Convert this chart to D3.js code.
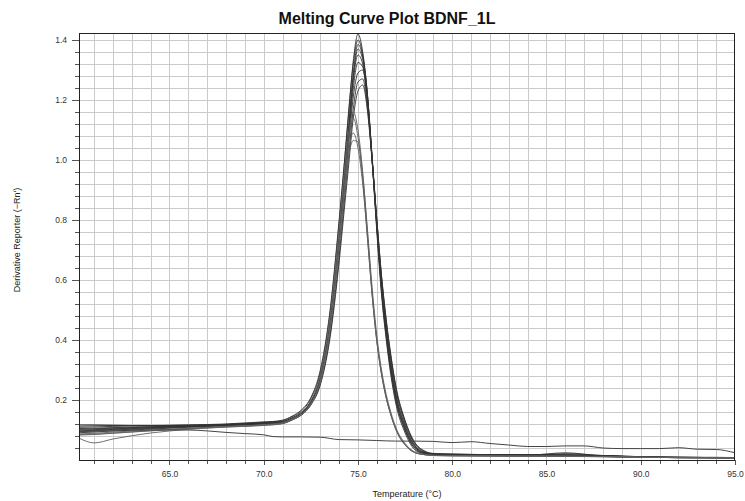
<!DOCTYPE html>
<html>
<head>
<meta charset="utf-8">
<script src="https://cdn.jsdelivr.net/npm/d3@7/dist/d3.min.js"></script>
<style>
  html, body { margin: 0; padding: 0; background: #fff; }
  svg { display: block; }
  text { font-family: "Liberation Sans", Arial, sans-serif; }
</style>
</head>
<body>
<svg id="chart" width="745" height="501"></svg>
<script>
// Shared temperature grid (°C) for the sample wells
const temps = [60.2, 61, 62, 64, 66, 68, 70, 71, 71.5, 72, 72.5, 73, 73.5, 74, 74.25, 74.5, 74.75,
  75, 75.25, 75.5, 75.75, 76, 76.25, 76.5, 76.75, 77, 77.5, 78, 78.5, 79,
  80, 82, 84, 86, 88, 90, 92, 94, 95];

// Derivative reporter (-Rn') per well
const wellA = [0.113, 0.114, 0.115, 0.115, 0.116, 0.118, 0.124, 0.131, 0.144, 0.163, 0.205, 0.290, 0.480, 0.790, 0.970, 1.150, 1.330, 1.420, 1.360, 1.220, 1.000, 0.760, 0.550, 0.400, 0.280, 0.190, 0.090, 0.035, 0.020, 0.017, 0.016, 0.015, 0.014, 0.014, 0.012, 0.009, 0.008, 0.008, 0.007];
const wellB = [0.117, 0.117, 0.116, 0.114, 0.115, 0.119, 0.126, 0.133, 0.146, 0.167, 0.208, 0.300, 0.490, 0.800, 0.970, 1.160, 1.320, 1.400, 1.350, 1.220, 1.010, 0.780, 0.570, 0.420, 0.300, 0.205, 0.100, 0.040, 0.022, 0.018, 0.017, 0.016, 0.016, 0.015, 0.013, 0.009, 0.008, 0.007, 0.007];
const wellC = [0.109, 0.110, 0.112, 0.114, 0.117, 0.120, 0.127, 0.128, 0.140, 0.158, 0.196, 0.275, 0.450, 0.745, 0.925, 1.110, 1.290, 1.385, 1.345, 1.215, 1.000, 0.770, 0.560, 0.410, 0.290, 0.200, 0.098, 0.040, 0.022, 0.018, 0.017, 0.016, 0.016, 0.024, 0.013, 0.009, 0.008, 0.008, 0.007];
const wellD = [0.105, 0.106, 0.108, 0.111, 0.114, 0.118, 0.123, 0.128, 0.139, 0.157, 0.193, 0.270, 0.440, 0.730, 0.910, 1.095, 1.275, 1.370, 1.335, 1.210, 1.005, 0.780, 0.575, 0.425, 0.305, 0.212, 0.105, 0.045, 0.024, 0.019, 0.018, 0.017, 0.017, 0.016, 0.014, 0.010, 0.008, 0.008, 0.007];
const wellE = [0.102, 0.104, 0.106, 0.110, 0.113, 0.117, 0.122, 0.127, 0.139, 0.157, 0.194, 0.272, 0.445, 0.735, 0.910, 1.090, 1.265, 1.350, 1.320, 1.200, 1.000, 0.780, 0.580, 0.430, 0.310, 0.218, 0.110, 0.048, 0.025, 0.019, 0.018, 0.017, 0.016, 0.016, 0.014, 0.010, 0.009, 0.008, 0.007];
const wellF = [0.100, 0.101, 0.104, 0.108, 0.112, 0.116, 0.121, 0.126, 0.138, 0.156, 0.193, 0.270, 0.440, 0.725, 0.895, 1.070, 1.240, 1.325, 1.310, 1.195, 1.000, 0.785, 0.590, 0.440, 0.320, 0.225, 0.115, 0.050, 0.026, 0.020, 0.018, 0.017, 0.016, 0.017, 0.014, 0.010, 0.009, 0.008, 0.008];
const wellG = [0.097, 0.099, 0.102, 0.107, 0.112, 0.117, 0.124, 0.128, 0.140, 0.158, 0.195, 0.272, 0.440, 0.720, 0.885, 1.050, 1.210, 1.290, 1.300, 1.195, 1.010, 0.800, 0.605, 0.455, 0.335, 0.238, 0.122, 0.055, 0.028, 0.020, 0.019, 0.018, 0.017, 0.021, 0.015, 0.010, 0.009, 0.008, 0.008];
const wellH = [0.095, 0.097, 0.100, 0.105, 0.110, 0.115, 0.121, 0.124, 0.135, 0.152, 0.186, 0.255, 0.410, 0.680, 0.845, 1.010, 1.170, 1.260, 1.270, 1.175, 1.000, 0.800, 0.610, 0.462, 0.342, 0.245, 0.128, 0.058, 0.030, 0.021, 0.019, 0.018, 0.017, 0.016, 0.015, 0.011, 0.009, 0.008, 0.008];
const wellI = [0.091, 0.093, 0.097, 0.103, 0.109, 0.114, 0.120, 0.123, 0.134, 0.150, 0.183, 0.250, 0.400, 0.660, 0.820, 0.980, 1.140, 1.230, 1.250, 1.165, 0.995, 0.800, 0.615, 0.468, 0.348, 0.250, 0.132, 0.060, 0.031, 0.022, 0.020, 0.018, 0.018, 0.017, 0.015, 0.011, 0.009, 0.009, 0.008];
const wellJ = [0.087, 0.089, 0.093, 0.100, 0.106, 0.112, 0.118, 0.125, 0.138, 0.158, 0.197, 0.280, 0.470, 0.770, 0.940, 1.085, 1.160, 1.100, 0.960, 0.760, 0.560, 0.400, 0.290, 0.210, 0.150, 0.105, 0.050, 0.025, 0.018, 0.015, 0.014, 0.013, 0.012, 0.012, 0.011, 0.009, 0.008, 0.007, 0.007];
const wellK = [0.085, 0.086, 0.090, 0.098, 0.105, 0.111, 0.117, 0.122, 0.134, 0.152, 0.188, 0.265, 0.438, 0.730, 0.900, 1.060, 1.140, 1.075, 0.935, 0.745, 0.550, 0.395, 0.285, 0.205, 0.148, 0.102, 0.050, 0.025, 0.018, 0.015, 0.014, 0.013, 0.013, 0.012, 0.011, 0.009, 0.008, 0.007, 0.007];
const wellL = [0.083, 0.085, 0.089, 0.097, 0.104, 0.110, 0.115, 0.121, 0.133, 0.150, 0.185, 0.260, 0.430, 0.715, 0.880, 1.030, 1.090, 1.040, 0.920, 0.740, 0.550, 0.395, 0.285, 0.207, 0.150, 0.105, 0.052, 0.026, 0.018, 0.015, 0.014, 0.014, 0.013, 0.013, 0.011, 0.009, 0.008, 0.007, 0.007];
const wellM = [0.073, 0.057, 0.070, 0.090, 0.102, 0.110, 0.116, 0.122, 0.134, 0.151, 0.186, 0.262, 0.432, 0.715, 0.870, 1.010, 1.065, 1.060, 0.950, 0.770, 0.575, 0.415, 0.300, 0.218, 0.158, 0.110, 0.055, 0.027, 0.019, 0.016, 0.015, 0.014, 0.013, 0.013, 0.012, 0.009, 0.008, 0.007, 0.007];

// No-template control has its own, denser grid
const ntcTemps = [60.2, 62, 64, 66, 67, 68, 69, 70, 70.5, 71, 72, 73, 74, 75, 76, 77, 78, 79, 80, 81, 82, 83, 84, 85, 86, 87, 88, 89, 90, 91, 92, 93, 94, 95];
const ntcValues = [0.095, 0.097, 0.100, 0.100, 0.097, 0.092, 0.088, 0.084, 0.078, 0.077, 0.077, 0.076, 0.068, 0.067, 0.065, 0.063, 0.063, 0.062, 0.058, 0.061, 0.055, 0.050, 0.045, 0.045, 0.047, 0.047, 0.040, 0.038, 0.038, 0.038, 0.041, 0.036, 0.035, 0.024];

const wells = [wellA, wellB, wellC, wellD, wellE, wellF, wellG, wellH, wellI, wellJ, wellK, wellL, wellM];

const xMajorTicks = [65, 70, 75, 80, 85, 90, 95];
const yMajorTicks = [0.2, 0.4, 0.6, 0.8, 1.0, 1.2, 1.4];

const titleText = "Melting Curve Plot BDNF_1L";
const xTitle = "Temperature (°C)";
const yTitle = "Derivative Reporter (−Rn')";

const svg = d3.select("#chart");
const W = 745, H = 501;
const m = { left: 79, right: 10, top: 33, bottom: 41 };

const x = d3.scaleLinear().domain([60.2, 95]).range([m.left, W - m.right]);
const y = d3.scaleLinear().domain([0, 1.4233]).range([H - m.bottom, m.top]);

svg.append("rect").attr("width", W).attr("height", H).attr("fill", "#fff");

// Grid: 1 °C vertical, 0.04 horizontal
const xGrid = d3.range(61, 95, 1);
const yGrid = d3.range(1, 36).map(i => +(i * 0.04).toFixed(2));

const grid = svg.append("g").attr("stroke", "#cbcbcb").attr("stroke-width", 1).attr("shape-rendering", "crispEdges");
grid.selectAll("line.v").data(xGrid).join("line")
  .attr("x1", d => Math.round(x(d)) + 0.5).attr("x2", d => Math.round(x(d)) + 0.5)
  .attr("y1", m.top).attr("y2", H - m.bottom);
grid.selectAll("line.h").data(yGrid).join("line")
  .attr("y1", d => Math.round(y(d)) + 0.5).attr("y2", d => Math.round(y(d)) + 0.5)
  .attr("x1", m.left).attr("x2", W - m.right);

// Curves
const line = d3.line().x(d => x(d[0])).y(d => y(d[1])).curve(d3.curveMonotoneX);
const plot = svg.append("g");
plot.selectAll("path.well").data(wells).join("path")
  .attr("class", "well")
  .attr("d", v => line(temps.map((t, i) => [t, v[i]])))
  .attr("fill", "none")
  .attr("stroke", (v, i) => i >= 9 ? "#606060" : "#333")
  .attr("stroke-width", 1)
  .attr("stroke-opacity", 0.9);
plot.append("path")
  .attr("d", line(ntcTemps.map((t, i) => [t, ntcValues[i]])))
  .attr("fill", "none").attr("stroke", "#444").attr("stroke-width", 1);

// Axes
const xAxisMinor = d3.axisBottom(x).tickValues(d3.range(61, 96, 1).filter(d => !xMajorTicks.includes(d))).tickSize(4).tickFormat("");
const xAxisMajor = d3.axisBottom(x).tickValues(xMajorTicks).tickSize(5).tickPadding(6).tickFormat(d3.format(".1f"));
const yAxisMinor = d3.axisLeft(y).tickValues(yGrid.filter(d => !yMajorTicks.some(t => Math.abs(t - d) < 1e-6))).tickSize(4).tickFormat("");
const yAxisMajor = d3.axisLeft(y).tickValues(yMajorTicks).tickSize(7).tickPadding(5).tickFormat(d3.format(".1f"));

function styleAxis(g) {
  g.select(".domain").remove();
  g.selectAll("line").attr("stroke", "#555").attr("shape-rendering", "crispEdges");
  g.selectAll("text").attr("fill", "#333").style("font-size", "8.5px").style("font-family", "'Liberation Sans', Arial, sans-serif");
}
svg.append("g").attr("transform", `translate(0,${H - m.bottom})`).call(xAxisMinor).call(styleAxis);
svg.append("g").attr("transform", `translate(0,${H - m.bottom})`).call(xAxisMajor).call(styleAxis);
svg.append("g").attr("transform", `translate(${m.left},0)`).call(yAxisMinor).call(styleAxis);
svg.append("g").attr("transform", `translate(${m.left},0)`).call(yAxisMajor).call(styleAxis);

// Plot frame
svg.append("rect")
  .attr("x", m.left + 0.5).attr("y", m.top + 0.5)
  .attr("width", W - m.right - m.left - 1).attr("height", H - m.bottom - m.top)
  .attr("fill", "none").attr("stroke", "#222").attr("stroke-width", 1)
  .attr("shape-rendering", "crispEdges");

// Titles
svg.append("text").attr("x", 387).attr("y", 24).attr("text-anchor", "middle")
  .style("font-size", "16px").style("font-weight", "bold").attr("fill", "#111").text(titleText);
svg.append("text").attr("x", 407).attr("y", 497).attr("text-anchor", "middle")
  .style("font-size", "9px").attr("fill", "#222").text(xTitle);
svg.append("text").attr("transform", "translate(20,240) rotate(-90)").attr("text-anchor", "middle")
  .style("font-size", "9px").attr("fill", "#222").text(yTitle);
</script>
</body>
</html>
